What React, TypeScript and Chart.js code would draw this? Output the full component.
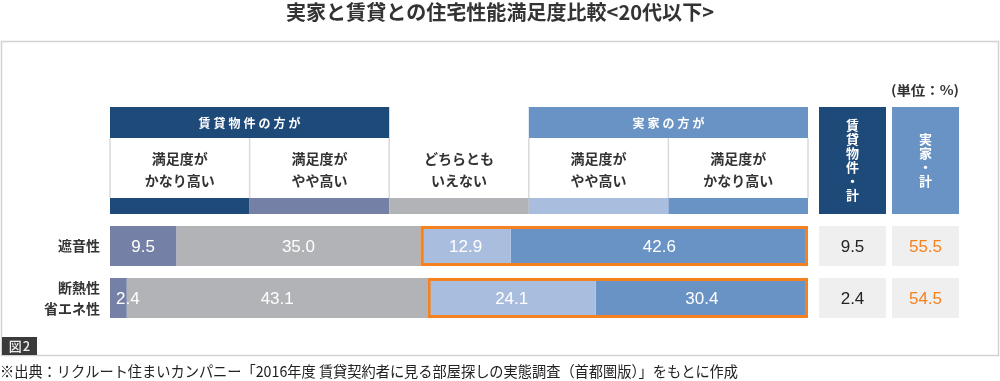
import React, { useEffect, useRef } from 'react';
import { Chart, registerables } from 'chart.js';

Chart.register(...registerables);

// ---- data ----
const rowLabels: (string | string[])[] = ['遮音性', ['断熱性', '省エネ性']];
const seriesNames = ['賃貸・かなり高い', '賃貸・やや高い', 'どちらともいえない', '実家・やや高い', '実家・かなり高い'];
const chintaiKanari = [0, 0];
const chintaiYaya = [9.5, 2.4];
const dochiraTomo = [35.0, 43.1];
const jikkaYaya = [12.9, 24.1];
const jikkaKanari = [42.6, 30.4];
const chintaiTotal = [9.5, 2.4];
const jikkaTotal = [55.5, 54.5];

const columnHeaders = [
  ['満足度が', 'かなり高い'],
  ['満足度が', 'やや高い'],
  ['どちらとも', 'いえない'],
  ['満足度が', 'やや高い'],
  ['満足度が', 'かなり高い'],
];
const groupHeaders = ['賃貸物件の方が', '実家の方が'];
const totalHeaders = [
  ['賃', '貸', '物', '件', '・', '計'],
  ['実', '家', '・', '計'],
];
const titleText = '実家と賃貸との住宅性能満足度比較<20代以下>';
const unitText = '(単位：%)';
const figLabel = '図2';
const sourceText = '※出典：リクルート住まいカンパニー「2016年度 賃貸契約者に見る部屋探しの実態調査（首都圏版）」をもとに作成';

// ---- styles ----
const JP = '"Noto Sans CJK JP", "Noto Sans", sans-serif';
const NUM = '"Liberation Sans", Arial, sans-serif';
const NAVY = '#1e4a7a';
const BLUE = '#6a93c5';
const ORANGE = '#f5821f';
const segColors = [NAVY, '#7480a5', '#b2b3b6', '#a9bddf', BLUE];

function fillFit(ctx: CanvasRenderingContext2D, text: string, x: number, y: number, width: number, align: 'left' | 'center' | 'right') {
  const w = ctx.measureText(text).width;
  const s = width / w;
  ctx.save();
  ctx.textAlign = 'left';
  const x0 = align === 'center' ? x - width / 2 : align === 'right' ? x - width : x;
  ctx.translate(x0, y);
  ctx.scale(s, 1);
  ctx.fillText(text, 0, 0);
  ctx.restore();
}

const decorPlugin = {
  id: 'decor',
  beforeDraw(chart: any) {
    const ctx: CanvasRenderingContext2D = chart.ctx;
    const { left, right } = chart.chartArea;
    ctx.save();
    ctx.fillStyle = '#ffffff';
    ctx.fillRect(0, 0, chart.width, chart.height);

    // title
    ctx.fillStyle = '#333333';
    ctx.textBaseline = 'middle';
    ctx.font = `bold 20px ${JP}`;
    fillFit(ctx, titleText, 500, 12, 428, 'center');

    // frame
    ctx.strokeStyle = '#d2d2d2';
    ctx.lineWidth = 1.5;
    ctx.strokeRect(1.5, 41.5, 997, 314);

    // fig label
    ctx.fillStyle = '#3a3a3a';
    ctx.fillRect(2, 337, 35, 18);
    ctx.fillStyle = '#eeeeee';
    ctx.font = `500 13px ${JP}`;
    ctx.textAlign = 'center';
    (ctx as any).letterSpacing = '1px';
    ctx.fillText(figLabel, 20, 346.5);
    (ctx as any).letterSpacing = '0px';

    // source
    ctx.fillStyle = '#222222';
    ctx.font = `15px ${JP}`;
    fillFit(ctx, sourceText, 0, 371, 738, 'left');

    // unit
    ctx.fillStyle = '#333333';
    ctx.font = `bold 13px ${JP}`;
    fillFit(ctx, unitText, 959, 90, 68, 'right');

    // header columns
    const n = columnHeaders.length;
    const colW = (right - left) / n;
    const xs = Array.from({ length: n + 1 }, (_, i) => left + i * colW);
    const bandTop = 107, bandBot = 138, cellBot = 198, stripBot = 214;

    ctx.fillStyle = NAVY;
    ctx.fillRect(xs[0], bandTop, xs[2] - xs[0], bandBot - bandTop);
    ctx.fillStyle = BLUE;
    ctx.fillRect(xs[3], bandTop, xs[5] - xs[3], bandBot - bandTop);
    ctx.fillStyle = '#ffffff';
    ctx.font = `bold 12px ${JP}`;
    ctx.textAlign = 'center';
    (ctx as any).letterSpacing = '3px';
    ctx.fillText(groupHeaders[0], (xs[0] + xs[2]) / 2 + 1.5, 123);
    ctx.fillText(groupHeaders[1], (xs[3] + xs[5]) / 2 + 1.5, 123);
    (ctx as any).letterSpacing = '0px';

    for (let i = 0; i < n; i++) {
      ctx.fillStyle = segColors[i];
      ctx.fillRect(xs[i], cellBot, xs[i + 1] - xs[i], stripBot - cellBot);
    }
    ctx.strokeStyle = '#d9d9d9';
    ctx.lineWidth = 1.5;
    for (let i = 0; i <= n; i++) {
      ctx.beginPath();
      ctx.moveTo(xs[i], bandBot);
      ctx.lineTo(xs[i], cellBot);
      ctx.stroke();
    }
    ctx.fillStyle = '#333333';
    ctx.font = `bold 14px ${JP}`;
    for (let i = 0; i < n; i++) {
      const cx = (xs[i] + xs[i + 1]) / 2;
      ctx.fillText(columnHeaders[i][0], cx, 159);
      ctx.fillText(columnHeaders[i][1], cx, 181);
    }

    const boxes = [
      { x0: right + 11, x1: right + 78, color: NAVY },
      { x0: right + 84, x1: right + 151, color: BLUE },
    ];
    ctx.font = `bold 13px ${JP}`;
    boxes.forEach((b, k) => {
      ctx.fillStyle = b.color;
      ctx.fillRect(b.x0, bandTop, b.x1 - b.x0, stripBot - bandTop);
      ctx.fillStyle = '#ffffff';
      const chars = totalHeaders[k];
      const step = 14;
      const mid = (bandTop + stripBot) / 2;
      const startY = mid - ((chars.length - 1) * step) / 2;
      chars.forEach((c, ci) => ctx.fillText(c, (b.x0 + b.x1) / 2, startY + ci * step));
    });
    ctx.restore();
  },
  afterDatasetsDraw(chart: any) {
    const ctx: CanvasRenderingContext2D = chart.ctx;
    const { right } = chart.chartArea;
    ctx.save();
    ctx.textBaseline = 'middle';

    const m3 = chart.getDatasetMeta(3).data;
    const m4 = chart.getDatasetMeta(4).data;
    ctx.strokeStyle = ORANGE;
    ctx.lineWidth = 3;
    for (let j = 0; j < m3.length; j++) {
      const a: any = m3[j];
      const b: any = m4[j];
      const x0 = a.base;
      const x1 = b.x;
      const top = a.y - a.height / 2;
      ctx.strokeRect(x0 + 1.5, top + 1.5, x1 - x0 - 3, a.height - 3);
    }

    ctx.font = `17px ${NUM}`;
    ctx.fillStyle = '#ffffff';
    chart.data.datasets.forEach((ds: any, i: number) => {
      const meta = chart.getDatasetMeta(i);
      meta.data.forEach((el: any, j: number) => {
        const v = ds.data[j];
        if (!v) return;
        const txt = v.toFixed(1);
        const tw = ctx.measureText(txt).width;
        const w = el.x - el.base;
        if (w < tw + 6) {
          ctx.textAlign = 'left';
          ctx.fillText(txt, el.base + 6, el.y + 1);
        } else {
          ctx.textAlign = 'center';
          ctx.fillText(txt, (el.x + el.base) / 2, el.y + 1);
        }
      });
    });

    const boxes = [
      { x0: right + 11, x1: right + 78, color: '#222222', vals: chintaiTotal },
      { x0: right + 84, x1: right + 151, color: ORANGE, vals: jikkaTotal },
    ];
    const ref = chart.getDatasetMeta(2).data;
    ctx.textAlign = 'center';
    boxes.forEach((b) => {
      ref.forEach((el: any, j: number) => {
        const top = el.y - el.height / 2;
        ctx.fillStyle = '#efefef';
        ctx.fillRect(b.x0, top, b.x1 - b.x0, el.height);
        ctx.fillStyle = b.color;
        ctx.fillText(b.vals[j].toFixed(1), (b.x0 + b.x1) / 2, el.y + 1);
      });
    });
    ctx.restore();
  },
};

export default function App() {
  const ref = useRef<HTMLCanvasElement>(null);
  useEffect(() => {
    document.body.style.margin = '0';
    const canvas = ref.current!;
    const series = [chintaiKanari, chintaiYaya, dochiraTomo, jikkaYaya, jikkaKanari];
    const chart = new Chart(canvas, {
      type: 'bar',
      data: {
        labels: rowLabels as any,
        datasets: series.map((d, i) => ({
          label: seriesNames[i],
          data: d,
          backgroundColor: segColors[i],
          borderWidth: 0,
          barPercentage: 0.77,
          categoryPercentage: 1,
        })),
      },
      options: {
        indexAxis: 'y',
        responsive: false,
        animation: false,
        devicePixelRatio: 1,
        layout: { padding: { top: 220, bottom: 57, left: 0, right: 192 } },
        plugins: {
          legend: { display: false },
          tooltip: { enabled: false },
          title: { display: false },
        },
        scales: {
          x: { stacked: true, min: 0, max: 100, display: false },
          y: {
            stacked: true,
            grid: { display: false, drawTicks: false },
            border: { display: false },
            ticks: {
              color: '#333333',
              font: { family: JP, size: 14, weight: 'bold' as any, lineHeight: 1.5 },
              padding: 10,
              crossAlign: 'near',
            },
            afterFit: (s: any) => {
              s.width = 110;
            },
          },
        },
      },
      plugins: [decorPlugin as any],
    });
    return () => chart.destroy();
  }, []);
  return (
    <div style={{ position: 'absolute', left: 0, top: 0, width: 1000, height: 381 }}>
      <canvas ref={ref} width={1000} height={381} style={{ display: 'block' }} />
    </div>
  );
}
